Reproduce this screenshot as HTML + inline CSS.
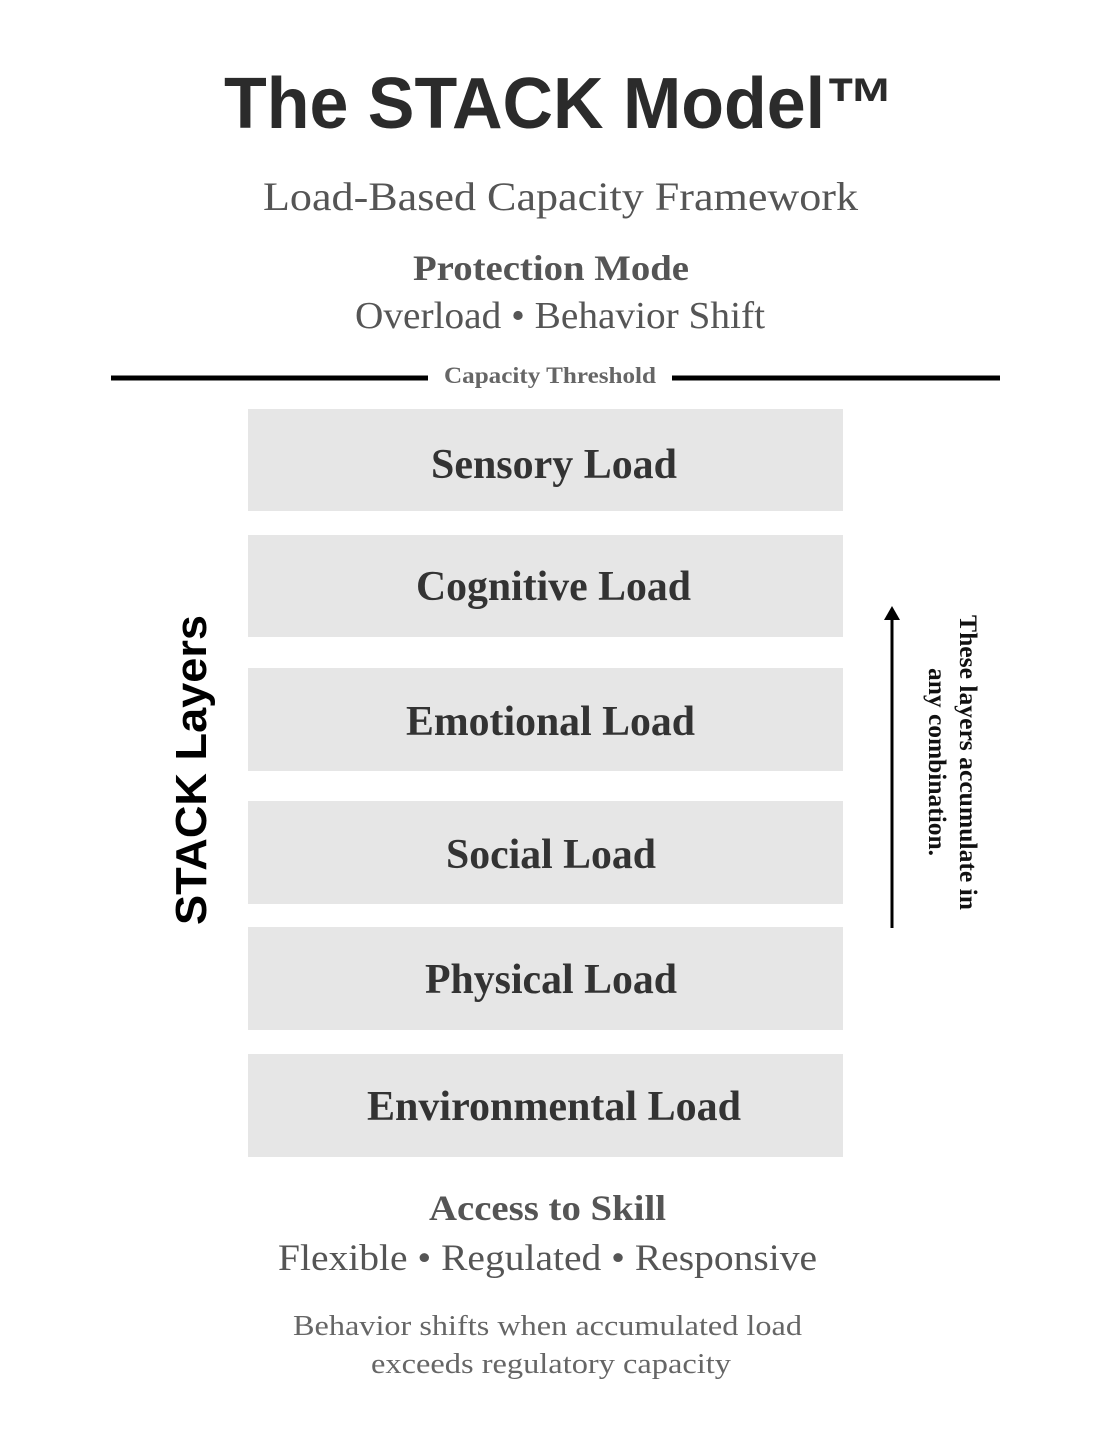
<!DOCTYPE html>
<html><head><meta charset="utf-8"><style>
html,body{margin:0;padding:0;background:#fff;}
svg{display:block}
.s{font-family:"Liberation Serif",serif;}
.a{font-family:"Liberation Sans",sans-serif;}
</style></head><body>
<svg width="1112" height="1440" viewBox="0 0 1112 1440" xmlns="http://www.w3.org/2000/svg">
<rect x="0" y="0" width="1112" height="1440" fill="#fff"/>
<text class="a" x="224" y="128" font-size="72" font-weight="bold" fill="#2b2b2b" textLength="671" lengthAdjust="spacingAndGlyphs">The STACK Model™</text>
<text class="s" x="263" y="210" font-size="40" fill="#555" textLength="595" lengthAdjust="spacingAndGlyphs">Load-Based Capacity Framework</text>
<text class="s" x="413" y="280" font-size="36" font-weight="bold" fill="#555" textLength="276" lengthAdjust="spacingAndGlyphs">Protection Mode</text>
<text class="s" x="355" y="328" font-size="38" fill="#555" textLength="410" lengthAdjust="spacingAndGlyphs">Overload • Behavior Shift</text>
<rect x="111" y="375.5" width="317" height="5" fill="#000"/>
<rect x="672" y="375.5" width="328" height="5" fill="#000"/>
<text class="s" x="444" y="383" font-size="23" font-weight="bold" fill="#666" textLength="212" lengthAdjust="spacingAndGlyphs">Capacity Threshold</text>
<g fill="#e6e6e6">
<rect x="248" y="409" width="595" height="102"/>
<rect x="248" y="535" width="595" height="102"/>
<rect x="248" y="668" width="595" height="103"/>
<rect x="248" y="801" width="595" height="103"/>
<rect x="248" y="927" width="595" height="103"/>
<rect x="248" y="1054" width="595" height="103"/>
</g>
<g class="s" font-weight="bold" font-size="42" fill="#333">
<text x="431" y="478" textLength="246" lengthAdjust="spacingAndGlyphs">Sensory Load</text>
<text x="416" y="600" textLength="275" lengthAdjust="spacingAndGlyphs">Cognitive Load</text>
<text x="406" y="735" textLength="289" lengthAdjust="spacingAndGlyphs">Emotional Load</text>
<text x="446" y="868" textLength="210" lengthAdjust="spacingAndGlyphs">Social Load</text>
<text x="425" y="993" textLength="252" lengthAdjust="spacingAndGlyphs">Physical Load</text>
<text x="367" y="1120" textLength="374" lengthAdjust="spacingAndGlyphs">Environmental Load</text>
</g>
<text class="a" transform="translate(206,925) rotate(-90)" x="0" y="0" font-size="44" font-weight="bold" fill="#000" textLength="310" lengthAdjust="spacingAndGlyphs">STACK Layers</text>
<rect x="890.5" y="618" width="3" height="310" fill="#000"/>
<polygon points="892,606 884,620 900,620" fill="#000"/>
<g class="s" font-weight="bold" font-size="25" fill="#111">
<text transform="translate(960,615) rotate(90)" x="0" y="0" textLength="295" lengthAdjust="spacingAndGlyphs">These layers accumulate in</text>
<text transform="translate(929,668) rotate(90)" x="0" y="0" textLength="188" lengthAdjust="spacingAndGlyphs">any combination.</text>
</g>
<text class="s" x="429" y="1220" font-size="36" font-weight="bold" fill="#555" textLength="237" lengthAdjust="spacingAndGlyphs">Access to Skill</text>
<text class="s" x="278" y="1270" font-size="37" fill="#555" textLength="539" lengthAdjust="spacingAndGlyphs">Flexible • Regulated • Responsive</text>
<text class="s" x="293" y="1335" font-size="29" fill="#666" textLength="509" lengthAdjust="spacingAndGlyphs">Behavior shifts when accumulated load</text>
<text class="s" x="371" y="1373" font-size="29" fill="#666" textLength="360" lengthAdjust="spacingAndGlyphs">exceeds regulatory capacity</text>
</svg>
</body></html>
